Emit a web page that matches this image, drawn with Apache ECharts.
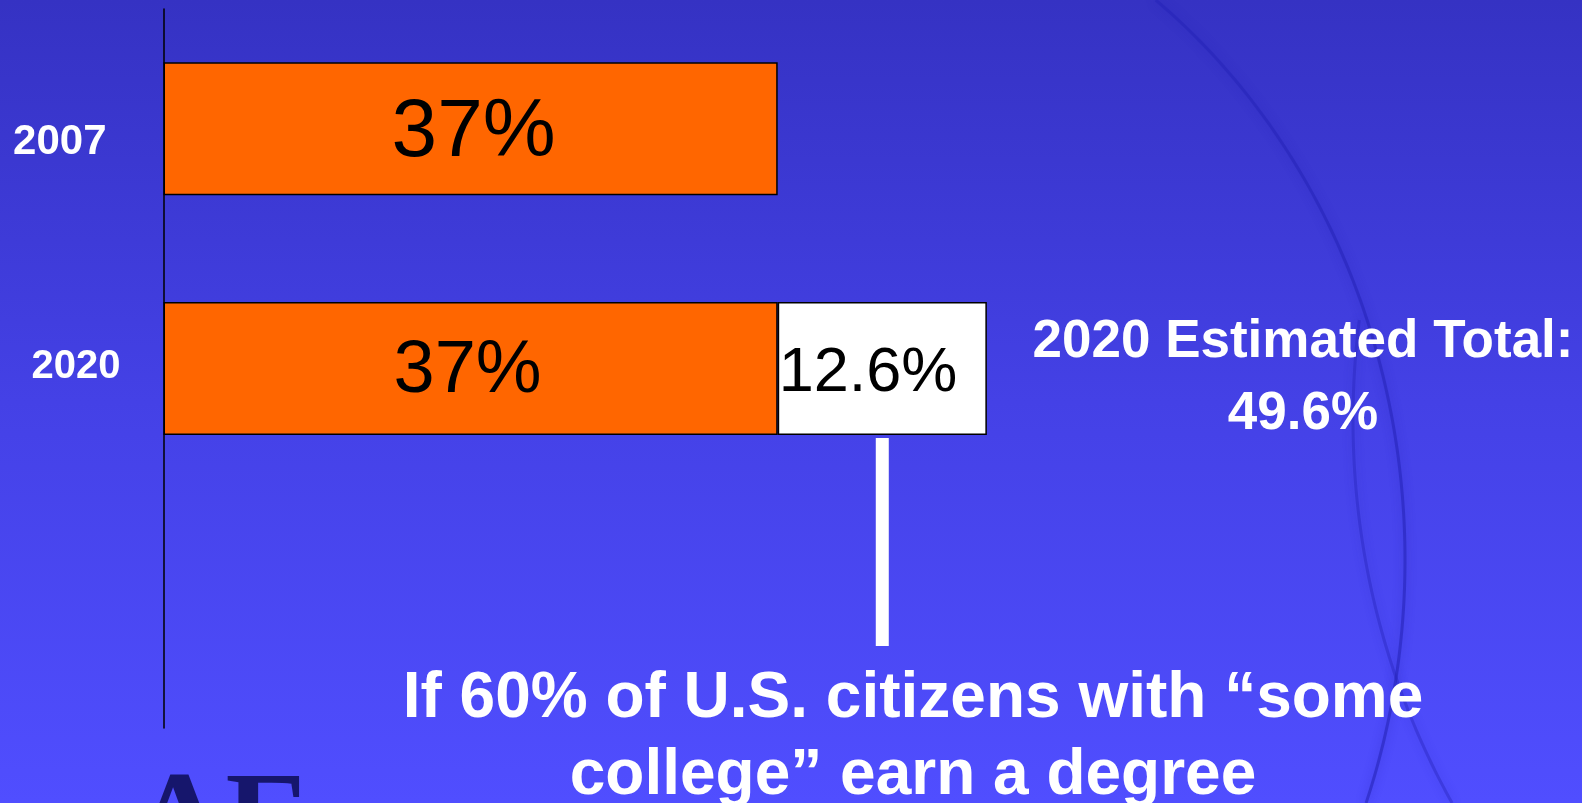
<!DOCTYPE html>
<html>
<head>
<meta charset="utf-8">
<script src="https://cdn.jsdelivr.net/npm/echarts@6/dist/echarts.min.js"></script>
<style>
html,body{margin:0;padding:0;width:1582px;height:803px;overflow:hidden;background:#4240e0;}
#chart{width:1582px;height:803px;}
</style>
</head>
<body>
<div id="chart"></div>
<script>
// ---- data ----
const categories = ['2007', '2020', ''];
const currentValues = [37, 37, null];      // orange segment
const additionalValues = [null, 12.6, null]; // white segment (if 60% of "some college" earn a degree)
const estimatedTotal = 49.6;
const totalLabel = '2020 Estimated Total:';
const noteLines = ['If 60% of U.S. citizens with “some', 'college” earn a degree'];

const chart = echarts.init(document.getElementById('chart'), null, {renderer: 'canvas'});

const FONT = '"Liberation Sans", Arial, Helvetica, sans-serif';

const option = {
  backgroundColor: {
    type: 'linear', x: 0, y: 0, x2: 0, y2: 1,
    colorStops: [
      {offset: 0, color: '#3532c3'},
      {offset: 0.5, color: '#4441e6'},
      {offset: 1, color: '#504eff'}
    ]
  },
  animation: false,
  grid: {left: 163.5, right: 90.5, top: 9, bottom: 75},
  xAxis: {
    type: 'value', min: 0, max: 80, show: false
  },
  yAxis: {
    type: 'category',
    inverse: true,
    data: categories,
    axisLine: {show: true, lineStyle: {color: '#000', width: 1.5}},
    axisTick: {show: false},
    splitLine: {show: false},
    axisLabel: {
      margin: 43,
      formatter: function (v) {
        if (v === '2007') return '{a|' + v + '}';
        if (v === '2020') return '{b|' + v + '}';
        return '';
      },
      rich: {
        a: {color: '#fff', fontFamily: FONT, fontWeight: 'bold', fontSize: 42, padding: [28, 14, 0, 0]},
        b: {color: '#fff', fontFamily: FONT, fontWeight: 'bold', fontSize: 40, padding: [0, 0, 4, 0]}
      }
    }
  },
  series: [
    {
      type: 'bar', stack: 'total', barWidth: 133,
      data: currentValues.map((v, i) => ({
        value: v,
        label: i === 0 ? {fontSize: 82, offset: [3, 5]} : {fontSize: 74, offset: [-3, 3]}
      })),
      itemStyle: {color: '#ff6600', borderColor: '#000', borderWidth: 1.5},
      label: {
        show: true, position: 'inside', color: '#000', fontFamily: FONT,
        formatter: p => p.value + '%'
      }
    },
    {
      type: 'bar', stack: 'total', barWidth: 133,
      data: additionalValues,
      itemStyle: {color: '#ffffff', borderColor: '#000', borderWidth: 1.5},
      label: {
        show: true, position: 'insideLeft', distance: 0, offset: [1, 5], color: '#000', fontFamily: FONT, fontSize: 63,
        formatter: p => p.value + '%'
      }
    }
  ]
};
chart.setOption(option);

// decorative background arcs (elliptical outline pieces)
function ellipseArc(cx, cy, rx, ry, y0, y1, side) {
  const pts = [];
  for (let k = 0; k <= 60; k++) {
    const y = y0 + (y1 - y0) * k / 60;
    const t = (y - cy) / ry;
    const dx = rx * Math.sqrt(Math.max(0, 1 - t * t));
    pts.push([cx + side * dx, y]);
  }
  return pts;
}

// Annotation elements placed relative to the data scale
const whiteMid = currentValues[1] + additionalValues[1] / 2;
const pTop = chart.convertToPixel({gridIndex: 0}, [whiteMid, categories[1]]);

chart.setOption({
  graphic: [
    {type: 'polyline', silent: true, z: -10,
      shape: {points: ellipseArc(770, 560, 635, 705, 0, 803, 1), smooth: 0.3},
      style: {fill: null, stroke: 'rgba(38,36,185,0.6)', lineWidth: 3, shadowBlur: 10, shadowColor: 'rgba(38,36,185,0.7)'}},
    {type: 'polyline', silent: true, z: -10,
      shape: {points: ellipseArc(2080, 420, 727, 760, 320, 803, -1), smooth: 0.3},
      style: {fill: null, stroke: 'rgba(38,36,185,0.4)', lineWidth: 3, shadowBlur: 10, shadowColor: 'rgba(38,36,185,0.6)'}},
    // white connector line below the 12.6% segment
    {type: 'rect', z: 10,
      shape: {x: pTop[0] - 6.5, y: 438, width: 13, height: 208},
      style: {fill: '#fff'}},
    // total text
    {type: 'text', z: 10,
      style: {
        text: totalLabel + '\n' + estimatedTotal + '%',
        x: 1303, y: 378, align: 'center', verticalAlign: 'middle',
        fill: '#fff', font: 'bold 53px ' + FONT, lineHeight: 72
      }},
    // note text
    {type: 'text', z: 10,
      style: {
        text: noteLines.join('\n'),
        x: 913, y: 738, align: 'center', verticalAlign: 'middle',
        fill: '#fff', font: 'bold 64px ' + FONT, lineHeight: 77
      }},
    // logo fragment
    {type: 'text', z: 5,
      style: {
        text: 'AE', x: 133, y: 826, align: 'left', verticalAlign: 'middle',
        fill: '#16166c', font: 'bold 128px "Liberation Serif", "Times New Roman", serif'
      }}
  ]
});
</script>
</body>
</html>
